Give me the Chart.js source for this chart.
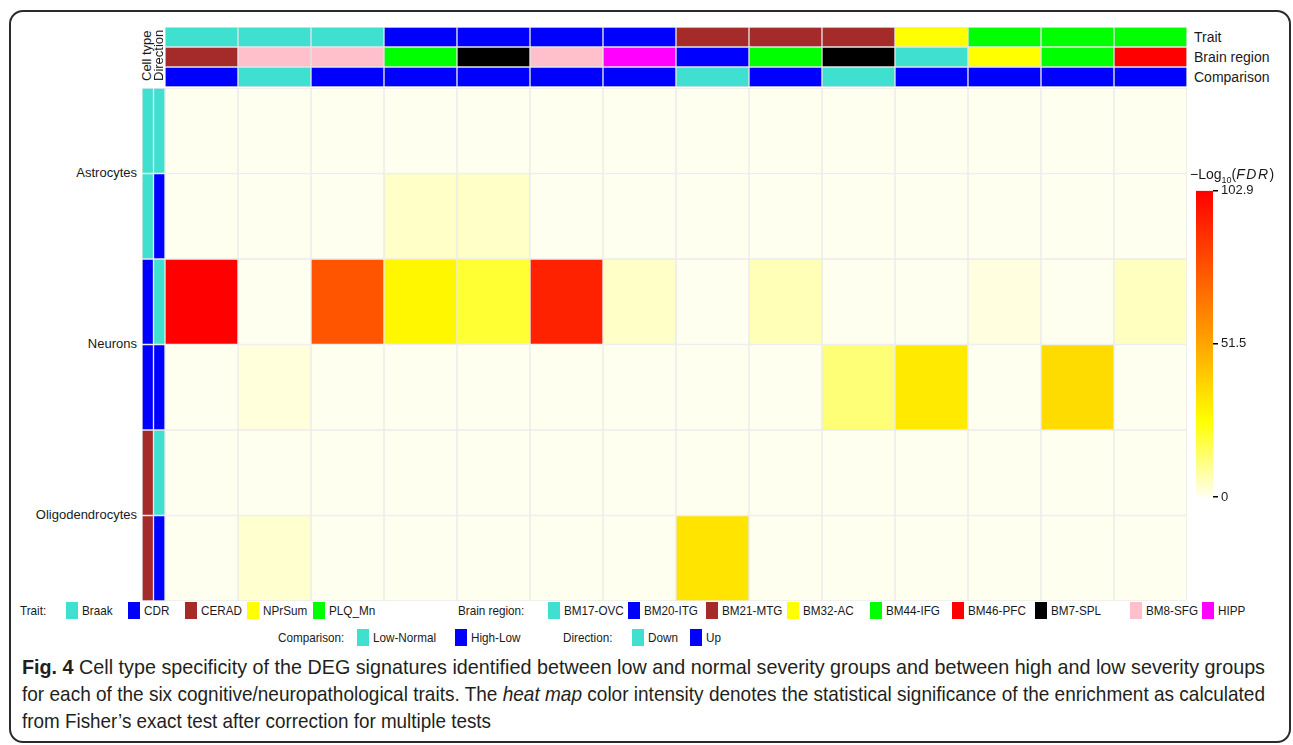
<!DOCTYPE html>
<html><head><meta charset="utf-8">
<script src="https://cdn.jsdelivr.net/npm/chart.js@4.4.1/dist/chart.umd.min.js"></script>
<style>
html,body{margin:0;padding:0;background:#fff;}
body{width:1293px;height:745px;position:relative;overflow:hidden;font-family:"Liberation Sans",Arial,sans-serif;color:#1a1a1a;}
#frame{position:absolute;left:9px;top:10px;width:1278px;height:729px;border:2px solid #2b2b2b;border-radius:14px;}
canvas{position:absolute;}
.lbl{position:absolute;white-space:nowrap;font-size:14px;line-height:16px;}
.rowlbl{position:absolute;white-space:nowrap;font-size:13px;line-height:16px;text-align:right;right:1156px;}
.rot{position:absolute;white-space:nowrap;font-size:13px;line-height:12px;transform-origin:0 0;transform:rotate(-90deg);}
.lg{position:absolute;white-space:nowrap;font-size:13px;line-height:16px;transform-origin:0 50%;transform:scaleX(0.9);}
.sw{position:absolute;width:12px;height:17px;}
.cap{position:absolute;left:22px;white-space:nowrap;font-size:21px;line-height:24px;color:#231f20;transform-origin:0 50%;}
</style></head>
<body>
<div id="frame"></div>
<canvas id="topAnn" width="1022" height="60" style="left:165px;top:27px;width:1022px;height:60px"></canvas>
<canvas id="leftAnn" width="23" height="513" style="left:142px;top:88px;width:23px;height:513px"></canvas>
<canvas id="heat" width="1022" height="513" style="left:165px;top:88px;width:1022px;height:513px"></canvas>
<canvas id="cbar" width="70" height="328" style="left:1196px;top:180px;width:70px;height:328px"></canvas>
<div id="labels"></div>
<div id="legend"></div>
<div id="caption">
  <div class="cap" id="cap1" style="top:655px"><b>Fig. 4</b> Cell type specificity of the DEG signatures identified between low and normal severity groups and between high and low severity groups</div>
  <div class="cap" id="cap2" style="top:682px">for each of the six cognitive/neuropathological traits. The <i>heat map</i> color intensity denotes the statistical significance of the enrichment as calculated</div>
  <div class="cap" id="cap3" style="top:709px">from Fisher’s exact test after correction for multiple tests</div>
</div>
<script>
// ---------------- DATA ----------------
const traits = ['Braak','CDR','CERAD','NPrSum','PLQ_Mn'];
const brainRegions = ['BM17-OVC','BM20-ITG','BM21-MTG','BM32-AC','BM44-IFG','BM46-PFC','BM7-SPL','BM8-SFG','HIPP'];
const comparisons = ['Low-Normal','High-Low'];
const directions = ['Down','Up'];
const cellTypes = ['Astrocytes','Neurons','Oligodendrocytes'];

const colTrait = ['Braak','Braak','Braak','CDR','CDR','CDR','CDR','CERAD','CERAD','CERAD','NPrSum','PLQ_Mn','PLQ_Mn','PLQ_Mn'];
const colRegion = ['BM21-MTG','BM8-SFG','BM8-SFG','BM44-IFG','BM7-SPL','BM8-SFG','HIPP','BM20-ITG','BM44-IFG','BM7-SPL','BM17-OVC','BM32-AC','BM44-IFG','BM46-PFC'];
const colComparison = ['High-Low','Low-Normal','High-Low','High-Low','High-Low','High-Low','High-Low','Low-Normal','High-Low','Low-Normal','High-Low','High-Low','High-Low','High-Low'];

const rowCellType = ['Astrocytes','Astrocytes','Neurons','Neurons','Oligodendrocytes','Oligodendrocytes'];
const rowDirection = ['Down','Up','Down','Up','Down','Up'];

// -log10(FDR) per row (cell type x direction), per column
const fdrAstroDown  = [0,0,0,0,0,0,0,0,0,0,0,0,0,0];
const fdrAstroUp    = [0,0,0,4.3,4.3,0,0,0,0,0,0,0,0,0];
const fdrNeuronDown = [102.9,0,76.4,28,20.2,92.3,4.3,0,6,0,0,1.8,0,5.1];
const fdrNeuronUp   = [0,2.1,0,0,0,0,0,0,0,13,31.7,0,35.7,0];
const fdrOligoDown  = [0,0,0,0,0,0,0,0,0,0,0,0,0,0];
const fdrOligoUp    = [0,3.4,0,0,0,0,0,33.4,0,0,0,0,0,0];
const fdrRows = [fdrAstroDown, fdrAstroUp, fdrNeuronDown, fdrNeuronUp, fdrOligoDown, fdrOligoUp];

const colorbarTicks = [0, 51.5, 102.9];
const colorbarTickLabels = ['0', '51.5', '102.9'];

// ---------------- STYLE ----------------
const catColor = {
  'Braak':'#40E0D0','CDR':'#0000FF','CERAD':'#A52A2A','NPrSum':'#FFFF00','PLQ_Mn':'#00FF00',
  'BM17-OVC':'#40E0D0','BM20-ITG':'#0000FF','BM21-MTG':'#A52A2A','BM32-AC':'#FFFF00','BM44-IFG':'#00FF00',
  'BM46-PFC':'#FF0000','BM7-SPL':'#000000','BM8-SFG':'#FFC0CB','HIPP':'#FF00FF',
  'Low-Normal':'#40E0D0','High-Low':'#0000FF','Down':'#40E0D0','Up':'#0000FF',
  'Astrocytes':'#40E0D0','Neurons':'#0000FF','Oligodendrocytes':'#A52A2A'
};
const rampMax = 102.9;
const rampStops = [0, 0.25, 0.5, 1];
const rampColors = [[255,255,240],[255,255,0],[255,165,0],[255,0,0]];
function fdrColor(v){
  const t = Math.max(0, Math.min(1, v / rampMax));
  for (let i = 1; i < rampStops.length; i++) {
    if (t <= rampStops[i]) {
      const f = (t - rampStops[i-1]) / (rampStops[i] - rampStops[i-1]);
      const a = rampColors[i-1], b = rampColors[i];
      const c = a.map((x, k) => Math.round(x + (b[k] - x) * f));
      return `rgb(${c[0]},${c[1]},${c[2]})`;
    }
  }
  return 'rgb(255,0,0)';
}
const gridGrey = '#ebebeb';
const unit = 1;

const baseOpts = (nRows) => ({
  responsive:false, animation:false, devicePixelRatio:1,
  plugins:{legend:{display:false}, tooltip:{enabled:false}},
  layout:{padding:0},
  scales:{
    x:{display:false, stacked:true},
    y:{display:false, stacked:true, min:0, max:nRows, reverse:true}
  }
});
const barDefaults = {borderWidth:1, borderSkipped:false, barPercentage:1, categoryPercentage:1};

const colIds = colTrait.map((t,i) => `${t} | ${colRegion[i]} | ${colComparison[i]}`);

// Heatmap
new Chart(document.getElementById('heat'), {
  type:'bar',
  data:{
    labels: colIds,
    datasets: fdrRows.map((vals, r) => Object.assign({
      label: `${rowCellType[r]} ${rowDirection[r]}`,
      data: vals.map(() => unit),
      backgroundColor: vals.map(fdrColor),
      borderColor: gridGrey
    }, barDefaults))
  },
  options: baseOpts(fdrRows.length)
});

// Top annotations
const topRows = [colTrait, colRegion, colComparison];
new Chart(document.getElementById('topAnn'), {
  type:'bar',
  data:{
    labels: colIds,
    datasets: topRows.map((arr, r) => Object.assign({
      label: ['Trait','Brain region','Comparison'][r],
      data: arr.map(() => unit),
      backgroundColor: arr.map(k => catColor[k]),
      borderColor: '#e4e4e4'
    }, barDefaults))
  },
  options: baseOpts(topRows.length)
});

// Left annotations
new Chart(document.getElementById('leftAnn'), {
  type:'bar',
  data:{
    labels:['Cell type','Direction'],
    datasets: rowCellType.map((ct, r) => Object.assign({
      label: `${ct} ${rowDirection[r]}`,
      data: [unit, unit],
      backgroundColor: [catColor[ct], catColor[rowDirection[r]]],
      borderColor: '#e8e8e8'
    }, barDefaults))
  },
  options: baseOpts(rowCellType.length)
});

// Colour bar
new Chart(document.getElementById('cbar'), {
  type:'bar',
  data:{
    labels:['-Log10(FDR)'],
    datasets:[{
      data:[[0, rampMax]],
      barPercentage:1, categoryPercentage:1, borderWidth:0,
      backgroundColor:(ctx) => {
        const ca = ctx.chart.chartArea;
        if (!ca) return 'rgba(0,0,0,0)';
        const g = ctx.chart.ctx.createLinearGradient(0, ca.bottom, 0, ca.top);
        rampStops.forEach((s, i) => g.addColorStop(s, `rgb(${rampColors[i].join(',')})`));
        return g;
      }
    }]
  },
  options:{
    responsive:false, animation:false, devicePixelRatio:1,
    plugins:{legend:{display:false}, tooltip:{enabled:false}},
    layout:{padding:{top:10, bottom:10, left:0, right:0}},
    scales:{
      x:{display:false},
      y:{
        position:'right', min:0, max:rampMax,
        afterFit:(s) => { s.width = 53; },
        afterBuildTicks:(s) => { s.ticks = colorbarTicks.map(v => ({value:v})); },
        grid:{drawOnChartArea:false, drawTicks:true, tickLength:5, color:'#000', tickColor:'#000', lineWidth:1.5},
        border:{display:false},
        ticks:{
          padding:3, color:'#1a1a1a',
          font:{family:'"Liberation Sans", Arial, sans-serif', size:13},
          callback:(v) => { const i = colorbarTicks.indexOf(v); return i >= 0 ? colorbarTickLabels[i] : ''; }
        }
      }
    }
  }
});

// ---------------- TEXT LABELS ----------------
const labels = document.getElementById('labels');
function addDiv(parent, cls, html, style){
  const d = document.createElement('div'); d.className = cls; d.innerHTML = html;
  Object.assign(d.style, style); parent.appendChild(d); return d;
}
addDiv(labels, 'lbl', 'Trait', {left:'1194px', top:'29px'});
addDiv(labels, 'lbl', 'Brain region', {left:'1194px', top:'49px'});
addDiv(labels, 'lbl', 'Comparison', {left:'1194px', top:'69px'});
addDiv(labels, 'rot', 'Cell type', {left:'141px', top:'81px'});
addDiv(labels, 'rot', 'Direction', {left:'153px', top:'81px'});
const rowLabelTops = [165, 336, 507];
cellTypes.forEach((c, i) => addDiv(labels, 'rowlbl', c, {top: rowLabelTops[i] + 'px'}));
addDiv(labels, 'lbl', '&minus;Log<sub style="font-size:9px">10</sub>(<i style="letter-spacing:1.5px">FDR</i>)', {left:'1190px', top:'166px', fontSize:'14px'});

// ---------------- LEGEND ----------------
const legend = document.getElementById('legend');
const lgRow1 = 603, lgRow2 = 630;
function legendGroup(title, titleX, items, swatchXs, y){
  addDiv(legend, 'lg', title, {left: titleX + 'px', top: y + 'px'});
  items.forEach((it, i) => {
    const s = document.createElement('div'); s.className = 'sw';
    Object.assign(s.style, {left: swatchXs[i] + 'px', top: (y - 1) + 'px', background: catColor[it]});
    legend.appendChild(s);
    addDiv(legend, 'lg', it, {left: (swatchXs[i] + 16) + 'px', top: y + 'px'});
  });
}
legendGroup('Trait:', 20, traits, [66,128,185,247,313], lgRow1);
legendGroup('Brain region:', 458, brainRegions, [548,628,706,787,870,952,1035,1130,1202], lgRow1);
legendGroup('Comparison:', 278, comparisons, [357,455], lgRow2);
legendGroup('Direction:', 563, directions, [632,690], lgRow2);

// ---------------- CAPTION FIT ----------------
const capTargets = {cap1:1243, cap2:1243, cap3:469};
Object.keys(capTargets).forEach(id => {
  const el = document.getElementById(id);
  const w = el.getBoundingClientRect().width;
  el.style.transform = `scaleX(${capTargets[id] / w})`;
});
</script>
</body></html>
